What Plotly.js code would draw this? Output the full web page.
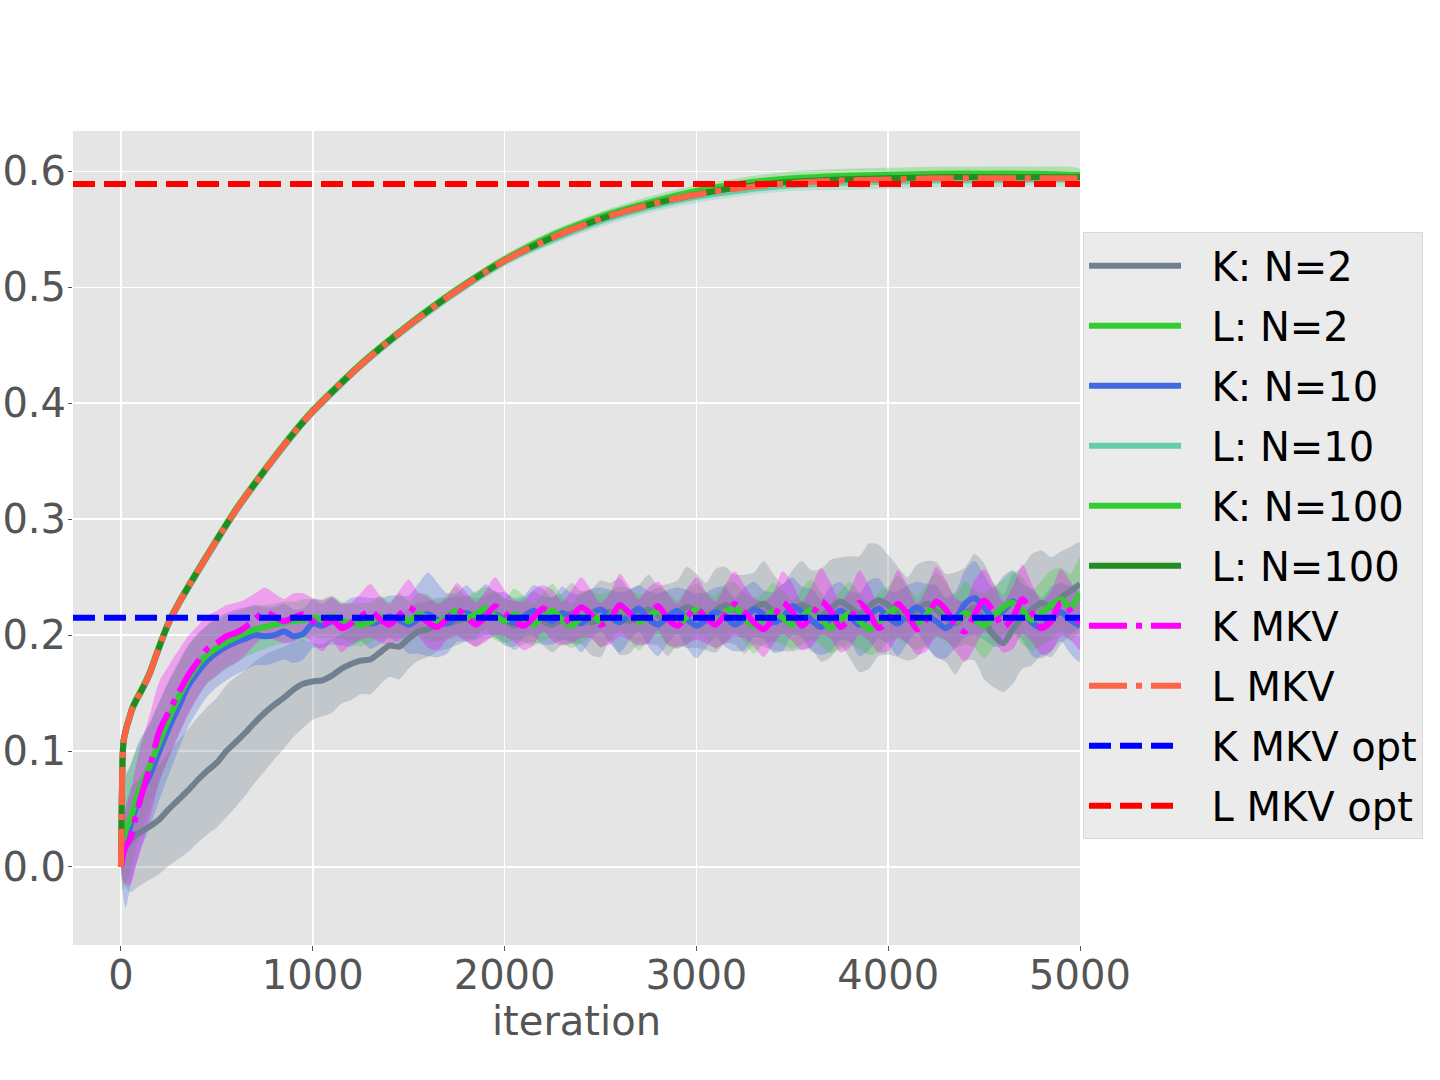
<!DOCTYPE html>
<html>
<head>
<meta charset="utf-8">
<script src="https://cdn.plot.ly/plotly-3.0.1.min.js"></script>
<style>
  html, body { margin: 0; padding: 0; background: #fff; }
  #chart { width: 1440px; height: 1080px; }
</style>
</head>
<body>
<div id="chart"></div>
<script>
// iterations for the K curves (noisy ones)
const ITER = [0,10,25,50,75,100,150,200,250,300,
  350,400,450,500,550,600,650,700,750,800,
  850,900,950,1000,1050,1100,1150,1200,1250,1300,
  1350,1400,1450,1500,1550,1600,1650,1700,1750,1800,
  1850,1900,1950,2000,2050,2100,2150,2200,2250,2300,
  2350,2400,2450,2500,2550,2600,2650,2700,2750,2800,
  2850,2900,2950,3000,3050,3100,3150,3200,3250,3300,
  3350,3400,3450,3500,3550,3600,3650,3700,3750,3800,
  3850,3900,3950,4000,4050,4100,4150,4200,4250,4300,
  4350,4400,4450,4500,4550,4600,4650,4700,4750,4800,
  4850,4900,4950,5000];

const K_N2 = [0,0.010,0.018,0.023,0.027,0.030,0.035,0.041,0.050,0.058,
  0.066,0.075,0.083,0.090,0.100,0.108,0.116,0.125,0.133,0.140,
  0.146,0.153,0.158,0.160,0.161,0.165,0.171,0.175,0.178,0.179,
  0.185,0.191,0.190,0.197,0.203,0.205,0.209,0.210,0.212,0.214,
  0.211,0.215,0.218,0.213,0.208,0.212,0.216,0.212,0.209,0.214,
  0.219,0.215,0.211,0.214,0.220,0.216,0.212,0.218,0.222,0.217,
  0.213,0.219,0.224,0.221,0.216,0.221,0.226,0.222,0.218,0.223,
  0.227,0.220,0.215,0.221,0.226,0.222,0.217,0.223,0.229,0.224,
  0.218,0.225,0.230,0.226,0.220,0.214,0.221,0.227,0.222,0.215,
  0.210,0.218,0.224,0.212,0.200,0.193,0.205,0.215,0.222,0.228,
  0.224,0.232,0.238,0.244];
const K_N2_SD = [0,0.020,0.035,0.045,0.046,0.046,0.046,0.047,0.049,0.051,
  0.053,0.054,0.055,0.056,0.057,0.056,0.054,0.052,0.050,0.047,
  0.044,0.041,0.038,0.033,0.031,0.032,0.030,0.031,0.029,0.030,
  0.028,0.027,0.028,0.026,0.025,0.024,0.023,0.022,0.021,0.020,
  0.021,0.019,0.020,0.019,0.021,0.020,0.022,0.021,0.024,0.022,
  0.026,0.023,0.028,0.033,0.025,0.033,0.028,0.025,0.030,0.026,
  0.031,0.028,0.035,0.032,0.029,0.036,0.033,0.030,0.034,0.031,
  0.037,0.033,0.029,0.035,0.038,0.034,0.040,0.042,0.038,0.044,
  0.050,0.054,0.048,0.043,0.039,0.036,0.040,0.037,0.041,0.038,
  0.044,0.040,0.046,0.050,0.045,0.042,0.047,0.044,0.048,0.045,
  0.043,0.040,0.038,0.036];

const K_N10 = [0,0.012,0.022,0.036,0.050,0.062,0.079,0.100,0.120,0.138,
  0.156,0.168,0.178,0.185,0.190,0.194,0.197,0.200,0.199,0.200,
  0.203,0.199,0.201,0.210,0.208,0.212,0.209,0.211,0.214,0.210,
  0.212,0.216,0.213,0.209,0.214,0.218,0.213,0.210,0.215,0.219,
  0.216,0.222,0.218,0.214,0.211,0.216,0.221,0.216,0.212,0.219,
  0.215,0.210,0.218,0.222,0.216,0.211,0.217,0.223,0.214,0.209,
  0.216,0.221,0.214,0.208,0.213,0.220,0.216,0.209,0.214,0.222,
  0.218,0.211,0.215,0.225,0.220,0.213,0.207,0.214,0.221,0.216,
  0.209,0.217,0.223,0.215,0.210,0.218,0.224,0.217,0.212,0.206,
  0.213,0.227,0.232,0.224,0.215,0.221,0.229,0.220,0.211,0.206,
  0.214,0.220,0.213,0.208];
const K_N10_SD = [0,0.035,0.057,0.052,0.050,0.048,0.045,0.042,0.040,0.037,
  0.035,0.033,0.031,0.030,0.029,0.028,0.027,0.026,0.025,0.024,
  0.024,0.023,0.022,0.021,0.019,0.020,0.018,0.021,0.019,0.022,
  0.020,0.018,0.021,0.025,0.030,0.036,0.032,0.026,0.021,0.024,
  0.020,0.022,0.019,0.023,0.021,0.018,0.022,0.024,0.020,0.023,
  0.021,0.025,0.022,0.019,0.023,0.026,0.022,0.020,0.024,0.027,
  0.023,0.020,0.025,0.028,0.024,0.021,0.026,0.023,0.027,0.024,
  0.021,0.026,0.029,0.025,0.022,0.027,0.024,0.028,0.025,0.022,
  0.027,0.030,0.026,0.023,0.028,0.025,0.022,0.027,0.031,0.026,
  0.024,0.029,0.032,0.028,0.025,0.030,0.027,0.024,0.029,0.026,
  0.028,0.025,0.029,0.031];

const K_N100 = [0,0.020,0.032,0.042,0.056,0.068,0.087,0.108,0.128,0.146,
  0.162,0.174,0.183,0.189,0.194,0.198,0.202,0.205,0.207,0.209,
  0.211,0.212,0.213,0.215,0.214,0.216,0.213,0.210,0.209,0.211,
  0.216,0.213,0.217,0.212,0.218,0.215,0.211,0.216,0.221,0.215,
  0.218,0.223,0.217,0.212,0.218,0.214,0.209,0.216,0.221,0.213,
  0.208,0.215,0.219,0.212,0.217,0.223,0.218,0.211,0.216,0.221,
  0.214,0.209,0.216,0.222,0.217,0.211,0.219,0.224,0.215,0.208,
  0.214,0.220,0.215,0.209,0.216,0.222,0.214,0.206,0.213,0.219,
  0.212,0.205,0.211,0.218,0.224,0.217,0.210,0.218,0.226,0.220,
  0.212,0.219,0.214,0.208,0.216,0.224,0.228,0.221,0.213,0.219,
  0.226,0.231,0.224,0.236];
const K_N100_SD = [0,0.040,0.046,0.046,0.043,0.040,0.037,0.035,0.033,0.031,
  0.029,0.027,0.025,0.024,0.023,0.022,0.021,0.020,0.019,0.018,
  0.018,0.017,0.018,0.016,0.017,0.018,0.016,0.017,0.019,0.017,
  0.018,0.016,0.019,0.017,0.018,0.020,0.017,0.019,0.021,0.018,
  0.020,0.018,0.021,0.019,0.022,0.020,0.018,0.021,0.023,0.020,
  0.019,0.022,0.020,0.023,0.021,0.019,0.022,0.024,0.021,0.020,
  0.023,0.021,0.024,0.022,0.020,0.023,0.025,0.022,0.021,0.024,
  0.022,0.025,0.023,0.021,0.024,0.026,0.023,0.022,0.025,0.027,
  0.024,0.022,0.026,0.024,0.027,0.025,0.023,0.026,0.028,0.025,
  0.023,0.027,0.025,0.028,0.026,0.024,0.027,0.029,0.026,0.028,
  0.030,0.027,0.029,0.031];

const K_MKV = [0,0.010,0.018,0.025,0.042,0.058,0.086,0.117,0.134,0.150,
  0.165,0.177,0.188,0.193,0.199,0.202,0.207,0.214,0.220,0.216,
  0.212,0.215,0.218,0.212,0.208,0.214,0.206,0.210,0.216,0.221,
  0.214,0.209,0.217,0.224,0.218,0.211,0.207,0.214,0.222,0.216,
  0.209,0.216,0.225,0.219,0.212,0.208,0.215,0.223,0.217,0.210,
  0.216,0.224,0.218,0.209,0.214,0.226,0.219,0.211,0.217,0.225,
  0.214,0.208,0.216,0.223,0.215,0.209,0.218,0.227,0.220,0.211,
  0.205,0.214,0.228,0.220,0.208,0.216,0.229,0.221,0.207,0.214,
  0.228,0.219,0.206,0.212,0.227,0.218,0.205,0.213,0.229,0.222,
  0.209,0.203,0.218,0.230,0.220,0.207,0.215,0.231,0.219,0.206,
  0.212,0.228,0.221,0.210];
const K_MKV_SD = [0,0.022,0.033,0.040,0.043,0.045,0.045,0.043,0.040,0.037,
  0.034,0.031,0.029,0.028,0.027,0.026,0.024,0.022,0.021,0.020,
  0.019,0.021,0.018,0.020,0.022,0.019,0.021,0.018,0.020,0.023,
  0.020,0.018,0.021,0.024,0.019,0.022,0.020,0.018,0.023,0.021,
  0.019,0.022,0.025,0.020,0.018,0.021,0.024,0.020,0.022,0.019,
  0.023,0.026,0.021,0.019,0.022,0.027,0.023,0.020,0.024,0.021,
  0.022,0.019,0.024,0.027,0.022,0.020,0.025,0.028,0.023,0.021,
  0.024,0.022,0.027,0.025,0.021,0.026,0.029,0.024,0.022,0.025,
  0.028,0.024,0.021,0.026,0.029,0.025,0.022,0.027,0.030,0.026,
  0.023,0.026,0.029,0.027,0.024,0.022,0.027,0.030,0.025,0.023,
  0.026,0.029,0.025,0.023];

// iterations for the smooth L curves
const LITER = [0,3,6,10,15,20,30,45,60,80,
  100,125,150,200,250,300,400,500,600,700,
  800,900,1000,1250,1500,1750,2000,2250,2500,2750,
  3000,3250,3500,3750,4000,4250,4500,4750,5000];

const L_N2 = [0,0.042,0.077,0.101,0.111,0.115,0.122,0.130,0.138,0.145,
  0.151,0.159,0.168,0.191,0.212,0.228,0.256,0.283,0.309,0.332,
  0.354,0.375,0.394,0.434,0.468,0.498,0.524,0.545,0.561,0.573,
  0.583,0.590,0.594,0.596,0.597,0.598,0.598,0.598,0.597];
const L_N10 = [0,0.038,0.073,0.098,0.109,0.113,0.120,0.128,0.136,0.143,
  0.149,0.157,0.166,0.189,0.210,0.226,0.254,0.281,0.307,0.330,
  0.352,0.373,0.392,0.432,0.466,0.496,0.522,0.541,0.557,0.569,
  0.578,0.584,0.588,0.590,0.591,0.592,0.592,0.593,0.593];
const L_N100 = [0,0.040,0.075,0.100,0.110,0.114,0.121,0.129,0.137,0.144,
  0.150,0.158,0.167,0.190,0.211,0.227,0.255,0.282,0.308,0.331,
  0.353,0.374,0.393,0.433,0.467,0.497,0.523,0.543,0.559,0.571,
  0.580,0.587,0.591,0.593,0.594,0.595,0.595,0.595,0.595];
const L_MKV = [0,0.040,0.075,0.100,0.110,0.114,0.121,0.129,0.137,0.144,
  0.150,0.158,0.167,0.190,0.211,0.227,0.255,0.282,0.308,0.331,
  0.353,0.374,0.393,0.433,0.467,0.497,0.523,0.543,0.559,0.571,
  0.580,0.586,0.590,0.592,0.593,0.594,0.594,0.594,0.594];
const L_N2_SD = [0,0.001,0.002,0.002,0.002,0.002,0.002,0.002,0.002,0.002,
  0.002,0.002,0.002,0.002,0.002,0.002,0.002,0.002,0.003,0.003,
  0.003,0.003,0.003,0.003,0.003,0.003,0.004,0.004,0.004,0.005,
  0.005,0.005,0.006,0.006,0.006,0.006,0.006,0.006,0.005];
const L_N10_SD = [0,0.001,0.002,0.002,0.002,0.002,0.002,0.002,0.002,0.002,
  0.002,0.002,0.002,0.002,0.002,0.002,0.002,0.003,0.003,0.003,
  0.003,0.003,0.003,0.003,0.004,0.004,0.004,0.004,0.005,0.005,
  0.005,0.005,0.005,0.006,0.006,0.006,0.006,0.005,0.005];
const L_N100_SD = [0,0.001,0.001,0.001,0.001,0.001,0.001,0.001,0.001,0.001,
  0.001,0.001,0.001,0.001,0.001,0.001,0.001,0.001,0.001,0.001,
  0.001,0.001,0.001,0.002,0.002,0.002,0.002,0.002,0.002,0.002,
  0.002,0.002,0.002,0.002,0.002,0.002,0.002,0.002,0.002];

const K_OPT = 0.215;
const L_OPT = 0.589;

const X_RANGE = [-250, 5000];
const Y_RANGE = [-0.0673, 0.6348];
const X_TICKS = [0, 1000, 2000, 3000, 4000, 5000];
const Y_TICKS = [0.0, 0.1, 0.2, 0.3, 0.4, 0.5, 0.6];
const Y_TICK_LABELS = ["0.0", "0.1", "0.2", "0.3", "0.4", "0.5", "0.6"];

const DASHDOT = "38px,9px,6px,9px";
const DASHED = "22px,9px";
const PAD = "\u00a0\u00a0"; // gap between legend line and label

function band(x, mean, sd, color) {
  const upper = mean.map((v, i) => v + sd[i]);
  const lower = mean.map((v, i) => v - sd[i]).reverse();
  return {
    x: x.concat(x.slice().reverse()),
    y: upper.concat(lower),
    type: "scatter", mode: "lines", fill: "toself",
    fillcolor: color, line: {width: 0, color: color, shape: "spline", smoothing: 0.7},
    hoverinfo: "skip", showlegend: false
  };
}

function curve(x, y, name, color, dash) {
  return {
    x: x, y: y, type: "scatter", mode: "lines", name: PAD + name,
    legendgroup: name,
    line: {color: color, width: 6, dash: dash || "solid", shape: "spline", smoothing: 0.7}
  };
}

const traces = [
  band(ITER, K_N2, K_N2_SD, "rgba(112,128,144,0.3)"),
  band(LITER, L_N2, L_N2_SD, "rgba(50,205,50,0.3)"),
  band(ITER, K_N10, K_N10_SD, "rgba(65,105,225,0.3)"),
  band(LITER, L_N10, L_N10_SD, "rgba(102,205,170,0.3)"),
  band(ITER, K_N100, K_N100_SD, "rgba(50,205,50,0.3)"),
  band(LITER, L_N100, L_N100_SD, "rgba(34,139,34,0.3)"),
  band(ITER, K_MKV, K_MKV_SD, "rgba(255,0,255,0.3)"),

  curve(ITER, K_N2, "K: N=2", "#708090"),
  curve(LITER, L_N2, "L: N=2", "#32CD32"),
  curve(ITER, K_N10, "K: N=10", "#4169E1"),
  curve(LITER, L_N10, "L: N=10", "#66CDAA"),
  curve(ITER, K_N100, "K: N=100", "#32CD32"),
  curve(LITER, L_N100, "L: N=100", "#228B22"),
  curve(ITER, K_MKV, "K MKV", "#FF00FF", DASHDOT),
  curve(LITER, L_MKV, "L MKV", "#FF6347", DASHDOT),
  curve(X_RANGE, [K_OPT, K_OPT], "K MKV opt", "#0000FF", DASHED),
  curve(X_RANGE, [L_OPT, L_OPT], "L MKV opt", "#FF0000", DASHED)
];

const layout = {
  width: 1440, height: 1080,
  margin: {l: 73, r: 360, t: 131, b: 135, pad: 0},
  paper_bgcolor: "#ffffff",
  plot_bgcolor: "#E5E5E5",
  font: {family: "DejaVu Sans", size: 40, color: "#555555"},
  showlegend: true,
  hovermode: false,
  xaxis: {
    range: X_RANGE, tickvals: X_TICKS,
    showgrid: true, gridcolor: "#ffffff", gridwidth: 1.5,
    zeroline: false, showline: false,
    ticks: "outside", ticklen: 5, tickcolor: "#555555", tickwidth: 1,
    ticklabelstandoff: -10,
    tickfont: {family: "DejaVu Sans", size: 40, color: "#555555"},
    title: {text: "iteration", standoff: 6,
      font: {family: "DejaVu Sans", size: 40, color: "#555555"}}
  },
  yaxis: {
    range: Y_RANGE, tickvals: Y_TICKS, ticktext: Y_TICK_LABELS,
    showgrid: true, gridcolor: "#ffffff", gridwidth: 1.5,
    zeroline: false, showline: false,
    ticks: "outside", ticklen: 4, tickcolor: "#555555", tickwidth: 1,
    ticklabelstandoff: -6,
    tickfont: {family: "DejaVu Sans", size: 40, color: "#555555"}
  },
  legend: {
    x: 1.003, xanchor: "left", y: 0.8756, yanchor: "top",
    bgcolor: "#EBEBEB", bordercolor: "#D8D8D8", borderwidth: 1,
    font: {family: "DejaVu Sans", size: 40, color: "#000000"},
    tracegroupgap: 5, itemwidth: 92
  }
};

Plotly.newPlot("chart", traces, layout, {displayModeBar: false, staticPlot: true});
</script>
</body>
</html>
